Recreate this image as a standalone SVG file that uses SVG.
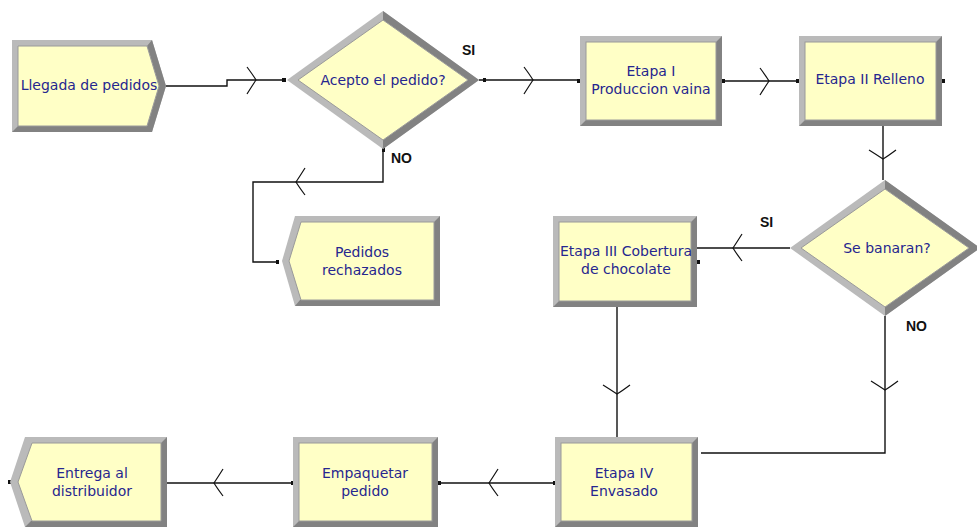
<svg xmlns="http://www.w3.org/2000/svg" width="977" height="528" viewBox="0 0 977 528">
<style>
.lt{fill:#bababa}
.dk{fill:#828282}
.in{fill:#ffffc6;stroke:#9a9a9a;stroke-width:1}
.t{font-family:"DejaVu Sans","Liberation Sans",sans-serif;font-size:14px;fill:#26268f;text-anchor:middle}
.lb{font-family:"Liberation Sans",Arial,sans-serif;font-size:14px;font-weight:bold;fill:#111}
.c{fill:none;stroke:#111;stroke-width:1.4}
.ch{fill:none;stroke:#111;stroke-width:1.2}
.pt{fill:#111}
</style>
<defs>
<path id="chev" d="M-9,-13 Q-3,-5 0,0 Q-4,6 -9,14" class="ch"/>
</defs>
<rect width="977" height="528" fill="#fff"/>

<g id="connectors">
<polyline class="c" points="166,86 227,86 227,80 285,80"/>
<use href="#chev" transform="translate(256,80)"/>
<polyline class="c" points="479,80 580,80"/>
<use href="#chev" transform="translate(533,80)"/>
<polyline class="c" points="722,81 799,81"/>
<use href="#chev" transform="translate(769,81)"/>
<polyline class="c" points="883,126 883,180"/>
<use href="#chev" transform="translate(883,159) rotate(90)"/>
<polyline class="c" points="790,248 697,248"/>
<use href="#chev" transform="translate(733,248) rotate(180)"/>
<polyline class="c" points="383,149 383,182 253,182 253,262 279,262"/>
<use href="#chev" transform="translate(296,182) rotate(180)"/>
<polyline class="c" points="617,307 617,437"/>
<use href="#chev" transform="translate(617,394) rotate(90)"/>
<polyline class="c" points="885,316 885,453 701,453"/>
<use href="#chev" transform="translate(885,390) rotate(90)"/>
<polyline class="c" points="555,483 438,483"/>
<use href="#chev" transform="translate(489,483) rotate(180)"/>
<polyline class="c" points="293,483 167,483"/>
<use href="#chev" transform="translate(214,483) rotate(180)"/>
<rect class="pt" x="282" y="78" width="4" height="4"/>
<rect class="pt" x="483" y="78" width="3" height="4"/>
<rect class="pt" x="577" y="79" width="3" height="4"/>
<rect class="pt" x="722" y="79" width="3" height="4"/>
<rect class="pt" x="796" y="79" width="4" height="4"/>
<rect class="pt" x="942" y="79" width="3" height="4"/>
<rect class="pt" x="382" y="148" width="3" height="4"/>
<rect class="pt" x="697" y="260" width="3" height="4"/>
<rect class="pt" x="276" y="260" width="3" height="4"/>
<rect class="pt" x="553" y="481" width="3" height="4"/>
<rect class="pt" x="438" y="481" width="3" height="4"/>
<rect class="pt" x="291" y="481" width="3" height="4"/>
<rect class="pt" x="8" y="480" width="3" height="4"/>
</g>

<g id="llegada">
<polygon class="lt" points="12,40 152,40 166,86 152,132 12,132"/>
<polygon class="dk" points="152,40 166,86 152,132 12,132 18,126 147,126 159,86 147,46"/>
<polygon class="in" points="18,46 147,46 159,86 147,126 18,126"/>
<text class="t" x="89" y="90">Llegada de pedidos</text>
</g>

<g id="acepto">
<polygon class="lt" points="287,80 383,11 479,80 383,149"/>
<polygon class="dk" points="383,11 479,80 383,149 383,140 468,80 383,20"/>
<polygon class="in" points="298,80 383,20 468,80 383,140"/>
<text class="t" x="383" y="85">Acepto el pedido?</text>
</g>
<text class="lb" x="462" y="55">SI</text>
<text class="lb" x="391" y="163">NO</text>

<g id="etapa1">
<rect class="lt" x="580" y="36" width="142" height="90"/>
<polygon class="dk" points="722,36 722,126 580,126 586,120 716,120 716,42"/>
<rect class="in" x="586" y="42" width="130" height="78"/>
<text class="t" x="651" y="76">Etapa I</text>
<text class="t" x="651" y="94">Produccion vaina</text>
</g>

<g id="etapa2">
<rect class="lt" x="799" y="36" width="143" height="90"/>
<polygon class="dk" points="942,36 942,126 799,126 805,120 936,120 936,42"/>
<rect class="in" x="805" y="42" width="131" height="78"/>
<text class="t" x="870" y="84">Etapa II Relleno</text>
</g>

<g id="banaran">
<polygon class="lt" points="790,248 885,180 980,248 885,316"/>
<polygon class="dk" points="885,180 980,248 885,316 885,307 969,248 885,189"/>
<polygon class="in" points="801,248 885,189 969,248 885,307"/>
<text class="t" x="887" y="253">Se banaran?</text>
</g>
<text class="lb" x="760" y="227">SI</text>
<text class="lb" x="906" y="331">NO</text>

<g id="rechazados">
<polygon class="lt" points="295,216 440,216 440,306 295,306 282,261"/>
<polygon class="dk" points="440,216 440,306 295,306 300,300 434,300 434,222"/>
<polygon class="in" points="301,222 434,222 434,300 301,300 289,261"/>
<text class="t" x="362" y="257">Pedidos</text>
<text class="t" x="362" y="275">rechazados</text>
</g>

<g id="etapa3">
<rect class="lt" x="553" y="216" width="144" height="91"/>
<polygon class="dk" points="697,216 697,307 553,307 559,301 691,301 691,222"/>
<rect class="in" x="559" y="222" width="132" height="79"/>
<text class="t" x="626" y="256">Etapa III Cobertura</text>
<text class="t" x="626" y="274">de chocolate</text>
</g>

<g id="etapa4">
<rect class="lt" x="555" y="437" width="143" height="90"/>
<polygon class="dk" points="698,437 698,527 555,527 561,521 692,521 692,443"/>
<rect class="in" x="561" y="443" width="131" height="78"/>
<text class="t" x="624" y="478">Etapa IV</text>
<text class="t" x="624" y="496">Envasado</text>
</g>

<g id="empaquetar">
<rect class="lt" x="293" y="437" width="145" height="90"/>
<polygon class="dk" points="438,437 438,527 293,527 299,521 432,521 432,443"/>
<rect class="in" x="299" y="443" width="133" height="78"/>
<text class="t" x="365" y="478">Empaquetar</text>
<text class="t" x="365" y="496">pedido</text>
</g>

<g id="entrega">
<polygon class="lt" points="25,437 167,437 167,527 25,527 10,482"/>
<polygon class="dk" points="167,437 167,527 25,527 31,521 161,521 161,443"/>
<polygon class="in" points="32,443 161,443 161,521 32,521 18,482"/>
<text class="t" x="92" y="478">Entrega al</text>
<text class="t" x="92" y="496">distribuidor</text>
</g>
</svg>
